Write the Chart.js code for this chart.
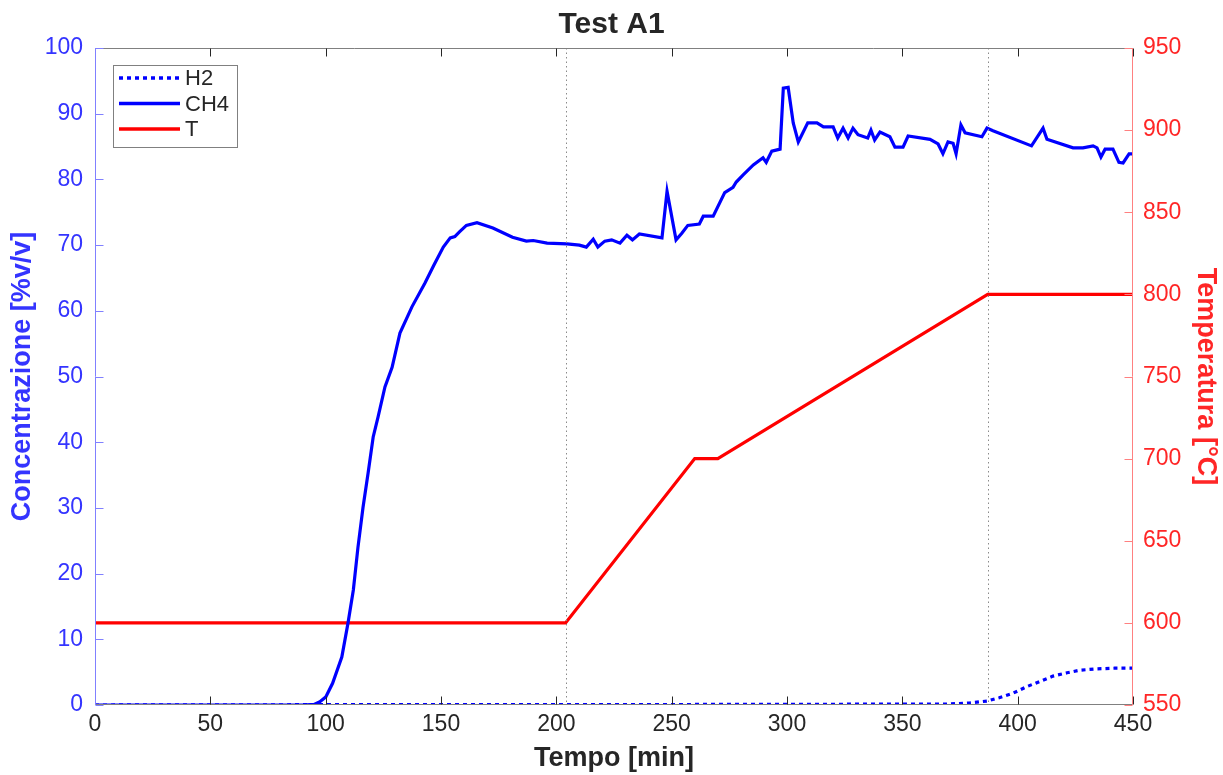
<!DOCTYPE html>
<html>
<head>
<meta charset="utf-8">
<script src="https://cdn.jsdelivr.net/npm/chart.js@4.4.1/dist/chart.umd.min.js"></script>
<style>
  html, body { margin: 0; padding: 0; background: #fff; }
  #wrap { width: 1223px; height: 775px; }
</style>
</head>
<body>
<div id="wrap"><canvas id="chart"></canvas></div>
<script>
// time axis [min] for each series
const tCH4 = [0, 50, 90, 95, 97.5, 100, 103, 107, 109.7, 112, 114, 116.2, 118.4, 120.6, 122.7, 125.7, 128.8, 132.2, 137.4, 143,
  147, 151, 154, 156, 158, 161, 165.6, 172.5, 181, 187, 190, 196, 204.6, 210, 213, 216, 218, 221, 224, 227.6,
  230.6, 233, 236, 245.8, 248, 251.9, 254.4, 257, 262, 263.7, 268, 273, 276.6, 278, 281, 285.4, 289.6, 291, 293.4, 297,
  298.4, 300.5, 302.7, 304.9, 309, 313, 315.8, 320, 322, 324.3, 326.5, 328.6, 330.8, 335, 336.4, 338, 340.3, 344.6, 346.8, 350.3,
  352.5, 362, 365.5, 367.6, 369.8, 372, 373.3, 375.4, 377.2, 384.5, 386.7, 389.3, 406, 411, 412.7, 424, 428.3, 432.7, 434.4, 436.1,
  437.9, 441.3, 443.9, 445.7, 448.3, 450];
const ch4 = [0, 0, 0, 0.1, 0.5, 1.2, 3.3, 7.3, 12.5, 17.5, 24, 30.1, 35.3, 40.8, 43.8, 48.4, 51.4, 56.6, 60.6, 64.2,
  67, 69.7, 71.1, 71.3, 72, 73, 73.4, 72.6, 71.2, 70.6, 70.7, 70.3, 70.2, 70, 69.7, 70.9, 69.7, 70.6, 70.8, 70.3,
  71.5, 70.8, 71.7, 71.1, 78.2, 70.8, 71.8, 73, 73.2, 74.4, 74.4, 78, 78.8, 79.6, 80.7, 82.2, 83.3, 82.6, 84.3, 84.6,
  93.9, 94, 88.6, 85.7, 88.6, 88.6, 88, 88, 86.3, 87.8, 86.3, 87.8, 86.8, 86.3, 87.5, 86, 87.2, 86.5, 84.9, 84.9,
  86.6, 86.1, 85.4, 83.9, 85.7, 85.5, 83.9, 88.3, 87.1, 86.5, 87.8, 87.4, 85.1, 87.8, 86.1, 84.8, 84.8, 85.1, 84.8, 83.4,
  84.6, 84.6, 82.6, 82.5, 83.9, 83.9];

const tH2 = [0, 100, 200, 300, 370, 379, 386.7, 392, 398, 404, 409.7, 415.3, 421.4, 427, 434.4, 442, 450];
const h2 = [0, 0.05, 0.05, 0.1, 0.15, 0.3, 0.6, 1.1, 1.8, 2.8, 3.6, 4.4, 4.9, 5.3, 5.5, 5.6, 5.6];

const tT = [0, 204, 260, 270, 387, 450];
const temp = [600, 600, 700, 700, 800, 800];

// dotted reference lines [min]
const markers = [204, 387];

const toXY = (xs, ys) => xs.map((x, i) => ({ x, y: ys[i] }));

const FONT = "'Liberation Sans', Arial, sans-serif";
const BLUE_TXT = "#3434ff";
const BLUE_AX = "#8080ff";
const RED_TXT = "#ff2626";
const RED_AX = "#ff8080";
const GRAY = "#262626";
const BOX = "#808080";

// box, inward ticks, dotted markers, legend
const decor = {
  id: "decor",
  afterDatasetsDraw(chart) {
    const { ctx, chartArea: a, scales } = chart;
    const L = 8;
    const l = a.left + 0.5, r = a.right - 0.5, t = a.top + 0.5, b = a.bottom - 0.5;
    ctx.save();
    ctx.lineWidth = 1;

    // dotted markers
    ctx.strokeStyle = "#8a8a8a";
    ctx.setLineDash([1.5, 3]);
    markers.forEach((m) => {
      const px = Math.round(scales.x.getPixelForValue(m)) + 0.5;
      ctx.beginPath();
      ctx.moveTo(px, a.top);
      ctx.lineTo(px, a.bottom);
      ctx.stroke();
    });
    ctx.setLineDash([]);

    // top / bottom border and x ticks
    ctx.strokeStyle = BOX;
    ctx.beginPath();
    ctx.moveTo(l, t); ctx.lineTo(r, t);
    ctx.moveTo(l, b); ctx.lineTo(r, b);
    ctx.stroke();
    ctx.strokeStyle = GRAY;
    scales.x.ticks.forEach((tk) => {
      const px = Math.round(scales.x.getPixelForValue(tk.value)) + 0.5;
      ctx.beginPath();
      ctx.moveTo(px, b); ctx.lineTo(px, b - L);
      ctx.moveTo(px, t); ctx.lineTo(px, t + L);
      ctx.stroke();
    });

    // left axis
    ctx.strokeStyle = BLUE_AX;
    ctx.beginPath();
    ctx.moveTo(l, a.top); ctx.lineTo(l, a.bottom);
    scales.y.ticks.forEach((tk) => {
      const py = Math.round(scales.y.getPixelForValue(tk.value)) + 0.5;
      ctx.moveTo(l, py); ctx.lineTo(l + L, py);
    });
    ctx.stroke();

    // right axis
    ctx.strokeStyle = RED_AX;
    ctx.beginPath();
    ctx.moveTo(r, a.top); ctx.lineTo(r, a.bottom);
    scales.y2.ticks.forEach((tk) => {
      const py = Math.round(scales.y2.getPixelForValue(tk.value)) + 0.5;
      ctx.moveTo(r, py); ctx.lineTo(r - L, py);
    });
    ctx.stroke();

    // legend box
    const bx = a.left + 18, by = a.top + 17, bw = 124, bh = 82;
    ctx.fillStyle = "#fff";
    ctx.fillRect(bx, by, bw, bh);
    ctx.strokeStyle = BOX;
    ctx.strokeRect(bx + 0.5, by + 0.5, bw, bh);
    ctx.font = "22px " + FONT;
    ctx.textBaseline = "middle";
    chart.data.datasets.forEach((ds, i) => {
      const yy = by + 13 + i * 25.5;
      ctx.strokeStyle = ds.borderColor;
      ctx.lineWidth = 3.5;
      ctx.setLineDash(ds.borderDash || []);
      ctx.beginPath();
      ctx.moveTo(bx + 6, yy);
      ctx.lineTo(bx + 67, yy);
      ctx.stroke();
      ctx.setLineDash([]);
      ctx.fillStyle = GRAY;
      ctx.fillText(ds.label, bx + 72, yy + 1);
    });
    ctx.restore();
  },
};

new Chart(document.getElementById("chart"), {
  type: "line",
  data: {
    datasets: [
      { label: "H2", data: toXY(tH2, h2), borderColor: "#0000ff", borderWidth: 3.2, borderDash: [4, 4], yAxisID: "y" },
      { label: "CH4", data: toXY(tCH4, ch4), borderColor: "#0000ff", borderWidth: 3.2, yAxisID: "y" },
      { label: "T", data: toXY(tT, temp), borderColor: "#ff0000", borderWidth: 3.2, yAxisID: "y2" },
    ],
  },
  options: {
    responsive: true,
    maintainAspectRatio: false,
    animation: false,
    layout: { padding: 0 },
    elements: { point: { radius: 0 }, line: { tension: 0 } },
    plugins: {
      legend: { display: false },
      tooltip: { enabled: false },
      title: {
        display: true,
        text: "Test A1",
        color: GRAY,
        font: { family: FONT, size: 30, weight: "bold", lineHeight: 1.2 },
        padding: { top: 7, bottom: 5 },
      },
    },
    scales: {
      x: {
        type: "linear",
        min: 0,
        max: 450,
        ticks: { stepSize: 50, color: GRAY, padding: 6, font: { family: FONT, size: 23 }, maxRotation: 0 },
        grid: { display: false, drawTicks: false },
        border: { display: false },
        title: { display: true, text: "Tempo [min]", color: GRAY, font: { family: FONT, size: 27, weight: "bold" }, padding: { top: 0, bottom: 0 } },
        afterFit: (s) => { s.height = 70; },
      },
      y: {
        position: "left",
        min: 0,
        max: 100,
        ticks: { stepSize: 10, color: BLUE_TXT, padding: 12, font: { family: FONT, size: 23 } },
        grid: { display: false, drawTicks: false },
        border: { display: false },
        title: { display: true, text: "Concentrazione [%v/v]", color: BLUE_TXT, font: { family: FONT, size: 27, weight: "bold" }, padding: { top: 6 } },
        afterFit: (s) => { s.width = 95; },
      },
      y2: {
        position: "right",
        min: 550,
        max: 950,
        ticks: { stepSize: 50, color: RED_TXT, padding: 10, font: { family: FONT, size: 23 } },
        grid: { display: false, drawTicks: false },
        border: { display: false },
        title: { display: true, text: "Temperatura [°C]", color: RED_TXT, font: { family: FONT, size: 27, weight: "bold" }, padding: { top: 1, bottom: 0 } },
        afterFit: (s) => { s.width = 90; },
      },
    },
  },
  plugins: [decor],
});
</script>
</body>
</html>
